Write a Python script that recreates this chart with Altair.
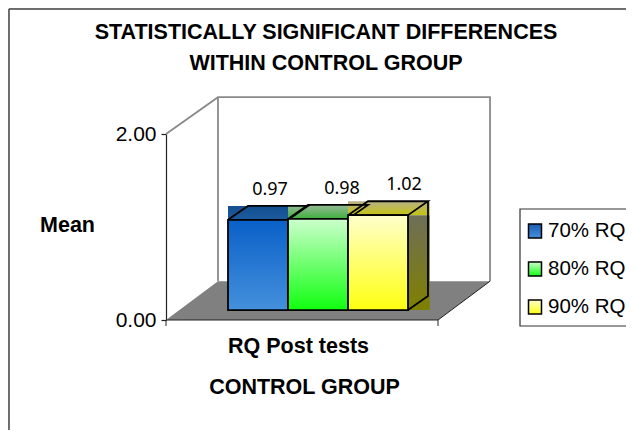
import altair as alt
import pandas as pd

series = ["70% RQ", "80% RQ", "90% RQ"]
values = [0.97, 0.98, 1.02]
y_ticks = [0, 2]
title_lines = ["STATISTICALLY SIGNIFICANT DIFFERENCES", "WITHIN CONTROL GROUP"]

W, H = 618, 422
SANS = "Liberation Sans"
X = alt.Scale(domain=[0, 3], range=[220, 400], nice=False, zero=False)
Y = alt.Scale(domain=[0, 2], range=[312, 126], nice=False, zero=False)
Y_AXIS = alt.Axis(values=y_ticks, format=".2f", offset=-158, grid=False, title=None,
                  domainColor="#222222", domainWidth=1.2, tickColor="#222222", tickWidth=1.2, tickSize=5,
                  labelFont=SANS, labelFontSize=21, labelColor="#000000", labelPadding=5)

# 3D box proportions, in scale units
BASE = 0.107        # bars stand this far above the floor's front edge
DX, DY = 0.333, 0.15  # bar depth
FL, FR, BL, BR = -1.033, 3.5, -0.167, 4.367
WALL_LO, WALL_HI = 0.417, 2.396


def grad(*stops):
    return alt.Gradient(gradient="linear", x1=0, x2=0, y1=0, y2=1,
                        stops=[alt.GradientStop(color=c, offset=o) for o, c in stops])


fronts = [grad((0, "#0a60c8"), (1, "#4490dc")),
          grad((0, "#ccffcc"), (1, "#10ff10")),
          grad((0, "#ffffcc"), (1, "#ffff10"))]
tops = [grad((0, "#14508f"), (1, "#1c5aa0")),
        grad((0, "#98b898"), (1, "#3cb03c")),
        grad((0, "#b8b088"), (1, "#c4c410"))]
side = grad((0, "#6e6e58"), (1, "#808000"))
swatches = [grad((0, "#1a5cb4"), (1, "#4490dc")),
            grad((0, "#ccffcc"), (1, "#10ff10")),
            grad((0, "#ffffcc"), (1, "#ffff10"))]
label_dx = [42, 54, 56]


def xe(f="x"):
    return alt.X(f"{f}:Q", scale=X, axis=None)


def ye(f="y"):
    return alt.Y(f"{f}:Q", scale=Y, axis=Y_AXIS)


def poly(xs, ys, color, width):
    d = pd.DataFrame({"x": xs, "y": ys, "o": range(len(xs))})
    return alt.Chart(d).mark_line(color=color, strokeWidth=width, clip=False).encode(
        x=xe(), y=ye(), order="o:Q")


layers = []

# outer frame
layers.append(alt.Chart().mark_rule(color="#444444", strokeWidth=1.5).encode(
    x=alt.value(1), x2=alt.value(W), y=alt.value(1)))
layers.append(alt.Chart().mark_rule(color="#444444", strokeWidth=1.5).encode(
    x=alt.value(1), y=alt.value(1), y2=alt.value(H)))

# walls
layers.append(poly([FL, BL, BR, BR], [2, WALL_HI, WALL_HI, WALL_LO], "#8a8a8a", 1.8))
layers.append(poly([BL, BL], [WALL_HI, WALL_LO], "#8a8a8a", 1.8))

# floor
floor = pd.DataFrame({"x": [FL, BL, FR, BR],
                      "y": [0, WALL_LO, WALL_LO, WALL_LO],
                      "y2": [0, 0, 0, WALL_LO]})
layers.append(alt.Chart(floor).mark_area(color="#808080", opacity=1).encode(
    x=xe(), y=ye(), y2="y2:Q"))
layers.append(poly([FL, FR, BR], [0, 0, WALL_LO], "#222222", 1))
for t in (FL, FR):
    layers.append(poly([t, t], [0, -0.064], "#222222", 1))

# bars: depth bands, side, outlines, fronts
rows = pd.DataFrame({"i": range(3), "j": [1, 2, 3], "v": values})
rows["front"] = rows["v"] + BASE
rows["back"] = rows["front"] + DY
for k in range(3):
    r = rows.iloc[[k]]
    end = "j" if k < 2 else "e"
    layers.append(alt.Chart(r).transform_calculate(e=f"datum.j + {DX + 0.03}").mark_rect(
        fill=tops[k], clip=False).encode(x=xe("i"), x2=f"{end}:Q", y=ye("back"), y2="front:Q"))

last = rows.iloc[[2]].assign(b=BASE)
layers.append(alt.Chart(last).transform_calculate(e=f"datum.j + {DX + 0.03}").mark_rect(
    fill=side).encode(x=xe("j"), x2="e:Q", y=ye("front"), y2="b:Q"))

for k, v in enumerate(values):
    f = v + BASE
    layers.append(poly([k, k + DX, k + 1 + DX, k + 1, k],
                       [f, f + DY, f + DY, f, f], "#000000", 1.8))
f = values[2] + BASE
layers.append(poly([3 + DX, 3 + DX, 3], [f + DY, BASE + DY, BASE], "#000000", 1.8))

for k in range(3):
    r = rows.iloc[[k]].assign(b=BASE)
    layers.append(alt.Chart(r).mark_rect(fill=fronts[k], stroke="#000000", strokeWidth=1.8).encode(
        x=xe("i"), x2="j:Q", y=ye("front"), y2="b:Q"))
    layers.append(alt.Chart(r).mark_text(
        font="Noto Sans", fontSize=18, color="#000000", dx=label_dx[k], dy=-25, align="center",
        baseline="alphabetic"
    ).encode(x=xe("i"), y=ye("front"), text=alt.Text("v:Q", format=".2f")))

# text
for txt, px, py in [("Mean", 59.5, 224), ("RQ Post tests", 290.5, 345), ("CONTROL GROUP", 296.5, 386)]:
    layers.append(alt.Chart().mark_text(
        text=txt, font=SANS, fontSize=21.5, fontWeight="bold", color="#000000", align="center", baseline="alphabetic"
    ).encode(x=alt.value(px), y=alt.value(py)))

# legend
layers.append(alt.Chart().mark_rect(fill="#ffffff", stroke="#333333", strokeWidth=1.2).encode(
    x=alt.value(512), x2=alt.value(640), y=alt.value(201), y2=alt.value(318)))
for k, name in enumerate(series):
    top = [216, 254, 292][k]
    layers.append(alt.Chart().mark_rect(fill=swatches[k], stroke="#000000", strokeWidth=1.5).encode(
        x=alt.value(520.5), x2=alt.value(533.5), y=alt.value(top), y2=alt.value(top + 14)))
    layers.append(alt.Chart().mark_text(
        text=name, font=SANS, fontSize=20.5, color="#000000", align="left", baseline="alphabetic"
    ).encode(x=alt.value(540), y=alt.value(top + 13)))

chart = alt.layer(*layers).properties(
    width=W, height=H, padding=0,
    autosize=alt.AutoSizeParams(type="none"),
    title=alt.TitleParams(text=title_lines, font=SANS, fontSize=21.5, fontWeight="bold", color="#000000",
                          anchor="middle", dx=9, dy=87, lineHeight=31, baseline="alphabetic"),
).configure_view(stroke=None).configure(background="#ffffff")

chart.save("out.html", embed_options={"renderer": "svg", "actions": False})
